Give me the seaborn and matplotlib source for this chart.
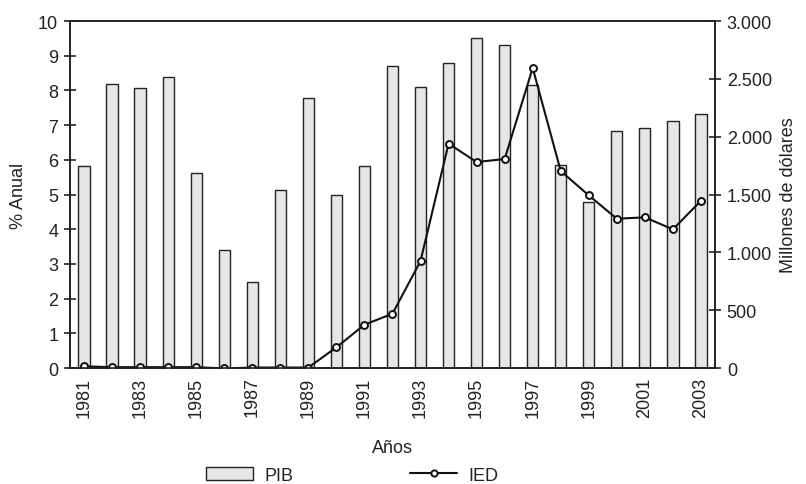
import numpy as np
import pandas as pd
import matplotlib
matplotlib.use("Agg")
import matplotlib.pyplot as plt
import matplotlib.ticker as mticker
from matplotlib.lines import Line2D
from matplotlib.patches import Patch
import seaborn as sns

years = [str(y) for y in range(1981, 2004)]
pib = [5.82, 8.18, 8.08, 8.38, 5.63, 3.39, 2.48, 5.12, 7.78, 5.0, 5.83, 8.71, 8.11,
       8.79, 9.5, 9.31, 8.17, 5.84, 4.79, 6.82, 6.92, 7.13, 7.33]
ied = [15, 8, 8, 8, 8, -3, 5, 5, 5, 179, 375, 470, 925,
       1940, 1781, 1807, 2594, 1703, 1493, 1291, 1303, 1199, 1447]
left_ticks = list(range(0, 11))
right_ticks = [0, 500, 1000, 1500, 2000, 2500, 3000]

sns.set_theme(style="white")
plt.rcParams['font.family'] = ['Liberation Sans', 'DejaVu Sans']

df = pd.DataFrame({"Año": years, "PIB": pib, "IED": ied, "pos": np.arange(len(years))})

fig = plt.figure(figsize=(8.06, 4.85), dpi=100)
ax = fig.add_axes([0.0868, 0.239, 0.8003, 0.7156])

sns.barplot(data=df, x="Año", y="PIB", ax=ax, color="#e6e6e6", width=0.4,
            edgecolor="#222222", linewidth=1.0, saturation=1)
ax.set_xlim(-0.5, len(years) - 0.5)
ax.set_ylim(0, 10)
ax.set_yticks(left_ticks)
ax.set_xticks(range(0, len(years), 2))
ax.set_xticklabels(years[::2], rotation=90)
ax.set_xticks(np.arange(0.5, len(years) - 0.5, 1), minor=True)
ax.tick_params(axis='x', which='major', length=0, labelsize=13, pad=6, colors="#222222")
ax.tick_params(axis='x', which='minor', length=9, direction='inout', width=1.2, color="#222222")
ax.tick_params(axis='y', which='major', length=9, direction='inout', width=1.2,
               labelsize=13, colors="#222222", pad=4)
ax.set_xlabel("Años", fontsize=13, color="#222222", labelpad=16)
ax.set_ylabel("% Anual", fontsize=13, color="#222222", labelpad=8)
for s in ax.spines.values():
    s.set_color("#222222")
    s.set_linewidth(1.2)

ax2 = ax.twinx()
sns.lineplot(data=df, x="pos", y="IED", ax=ax2, color="#111111", linewidth=1.5,
             marker='o', markersize=5, markerfacecolor='white',
             markeredgecolor='#111111', markeredgewidth=1.4)
ax2.set_ylim(0, 3000)
ax2.set_yticks(right_ticks)
ax2.yaxis.set_major_formatter(mticker.FuncFormatter(lambda v, p: f"{int(v):,}".replace(",", ".")))
ax2.tick_params(axis='y', which='major', length=9, direction='inout', width=1.2,
                labelsize=13, colors="#222222", pad=4)
ax2.set_ylabel("Millones de dólares", fontsize=13, color="#222222", labelpad=6)
ax2.set_xlim(-0.5, len(years) - 0.5)
ax2.set_xlabel("")
for s in ax2.spines.values():
    s.set_color("#222222")
    s.set_linewidth(1.2)

handles = [Patch(facecolor="#e6e6e6", edgecolor="#222222", linewidth=1.0),
           Line2D([0], [0], color="#111111", linewidth=1.5, marker='o', markersize=4.5,
                  markerfacecolor='white', markeredgecolor='#111111', markeredgewidth=1.4)]
fig.legend(handles, ["PIB", "IED"], loc='center', bbox_to_anchor=(0.437, 0.018),
           ncol=2, frameon=False, fontsize=13, columnspacing=6.5, handlelength=2.6,
           handletextpad=0.6, labelcolor="#222222")

fig.savefig("out.png", dpi=100)
